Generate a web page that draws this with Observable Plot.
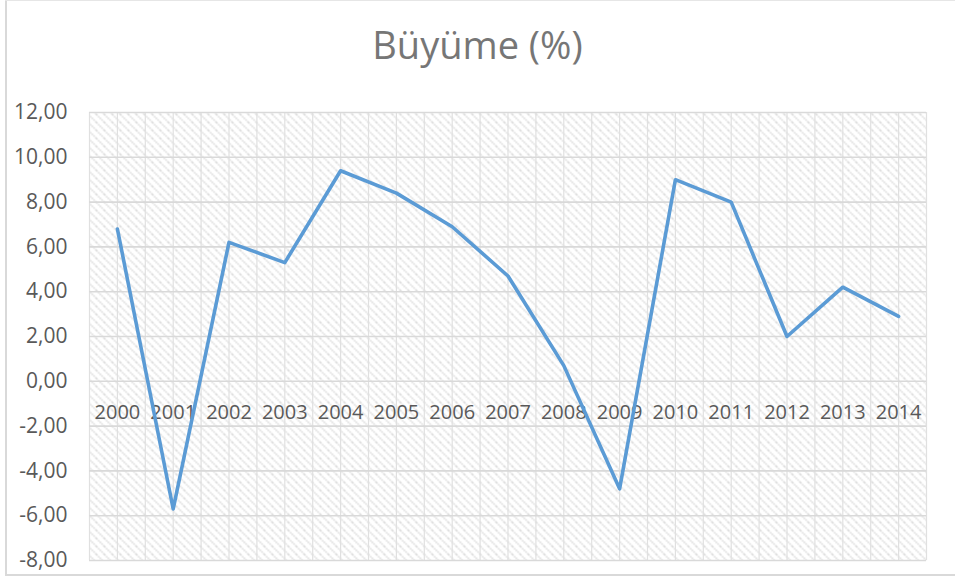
<!DOCTYPE html>
<html>
<head>
<meta charset="utf-8">
<script src="https://cdn.jsdelivr.net/npm/d3@7"></script>
<script src="https://cdn.jsdelivr.net/npm/@observablehq/plot@0.6"></script>
<style>
  html, body { margin: 0; padding: 0; background: #fff; }
  #wrap { position: relative; width: 955px; height: 579px; overflow: hidden; font-family: "Open Sans", sans-serif; }
  #title { position: absolute; left: 0; top: 0; width: 955px; height: 90px; text-align: center; font-size: 38px; color: #767676; line-height: 90px; margin-top: -1px; }
  #chart { position: absolute; left: 0; top: 90px; }
  .bl { position: absolute; left: 5px; top: 0; width: 2px; height: 576px; background: #d9d9d9; }
  .bt { position: absolute; left: 5px; top: 0; width: 950px; height: 1px; background: #e6e6e6; }
  .bb { position: absolute; left: 5px; top: 574px; width: 950px; height: 2px; background: #d9d9d9; }
</style>
</head>
<body>
<div id="wrap">
  <div class="bl"></div><div class="bt"></div><div class="bb"></div>
  <div id="title">Büyüme (%)</div>
  <div id="chart"></div>
</div>
<script>
const years = [2000, 2001, 2002, 2003, 2004, 2005, 2006, 2007, 2008, 2009, 2010, 2011, 2012, 2013, 2014];
const growth = [6.8, -5.7, 6.2, 5.3, 9.4, 8.4, 6.9, 4.7, 0.7, -4.8, 9.0, 8.0, 2.0, 4.2, 2.9];
const yTicks = [-8, -6, -4, -2, 0, 2, 4, 6, 8, 10, 12];

const data = years.map((y, i) => ({year: y, value: growth[i]}));
const halfSteps = d3.range(years[0] - 0.5, years[years.length - 1] + 0.51, 0.5);
const fmt = d => d.toFixed(2).replace(".", ",");

const plot = Plot.plot({
  width: 955,
  height: 489,
  marginLeft: 89,
  marginRight: 29,
  marginTop: 22,
  marginBottom: 19,
  style: {fontFamily: "Open Sans, sans-serif", background: "transparent"},
  x: {domain: [years[0] - 0.5, years[years.length - 1] + 0.5], axis: null},
  y: {domain: [-8, 12], ticks: yTicks, tickFormat: fmt, tickSize: 0, tickPadding: 22, label: null},
  marks: [
    Plot.frame({fill: "url(#hatch)", stroke: "none"}),
    Plot.ruleX(halfSteps, {stroke: "#e0e0e0", strokeWidth: 1.2}),
    Plot.ruleY(yTicks, {stroke: "#d9d9d9", strokeWidth: 1.6}),
    Plot.axisY({ticks: yTicks, tickFormat: fmt, tickSize: 0, tickPadding: 22, fontSize: 21, color: "#595959", label: null}),
    Plot.text(years, {x: d => d, y: () => 0, text: d => String(d), dy: 31, fontSize: 20, fill: "#595959"}),
    Plot.line(data, {x: "year", y: "value", stroke: "#5B9BD5", strokeWidth: 3.6, strokeLinejoin: "round", strokeLinecap: "round"})
  ]
});

// hatch pattern definition
const ns = "http://www.w3.org/2000/svg";
const defs = document.createElementNS(ns, "defs");
const pat = document.createElementNS(ns, "pattern");
pat.setAttribute("id", "hatch");
pat.setAttribute("patternUnits", "userSpaceOnUse");
pat.setAttribute("width", "8");
pat.setAttribute("height", "8");
const bg = document.createElementNS(ns, "rect");
bg.setAttribute("width", "8"); bg.setAttribute("height", "8"); bg.setAttribute("fill", "#ffffff");
pat.appendChild(bg);
[["0,0", "8,8"], ["-4,4", "4,12"], ["4,-4", "12,4"]].forEach(([a, b]) => {
  const l = document.createElementNS(ns, "line");
  const [x1, y1] = a.split(","), [x2, y2] = b.split(",");
  l.setAttribute("x1", x1); l.setAttribute("y1", y1); l.setAttribute("x2", x2); l.setAttribute("y2", y2);
  l.setAttribute("stroke", "#d6d6d6"); l.setAttribute("stroke-width", "1.5"); l.setAttribute("stroke-dasharray", "1.4 1");
  pat.appendChild(l);
});
defs.appendChild(pat);
plot.insertBefore(defs, plot.firstChild);

document.getElementById("chart").appendChild(plot);
</script>
</body>
</html>
